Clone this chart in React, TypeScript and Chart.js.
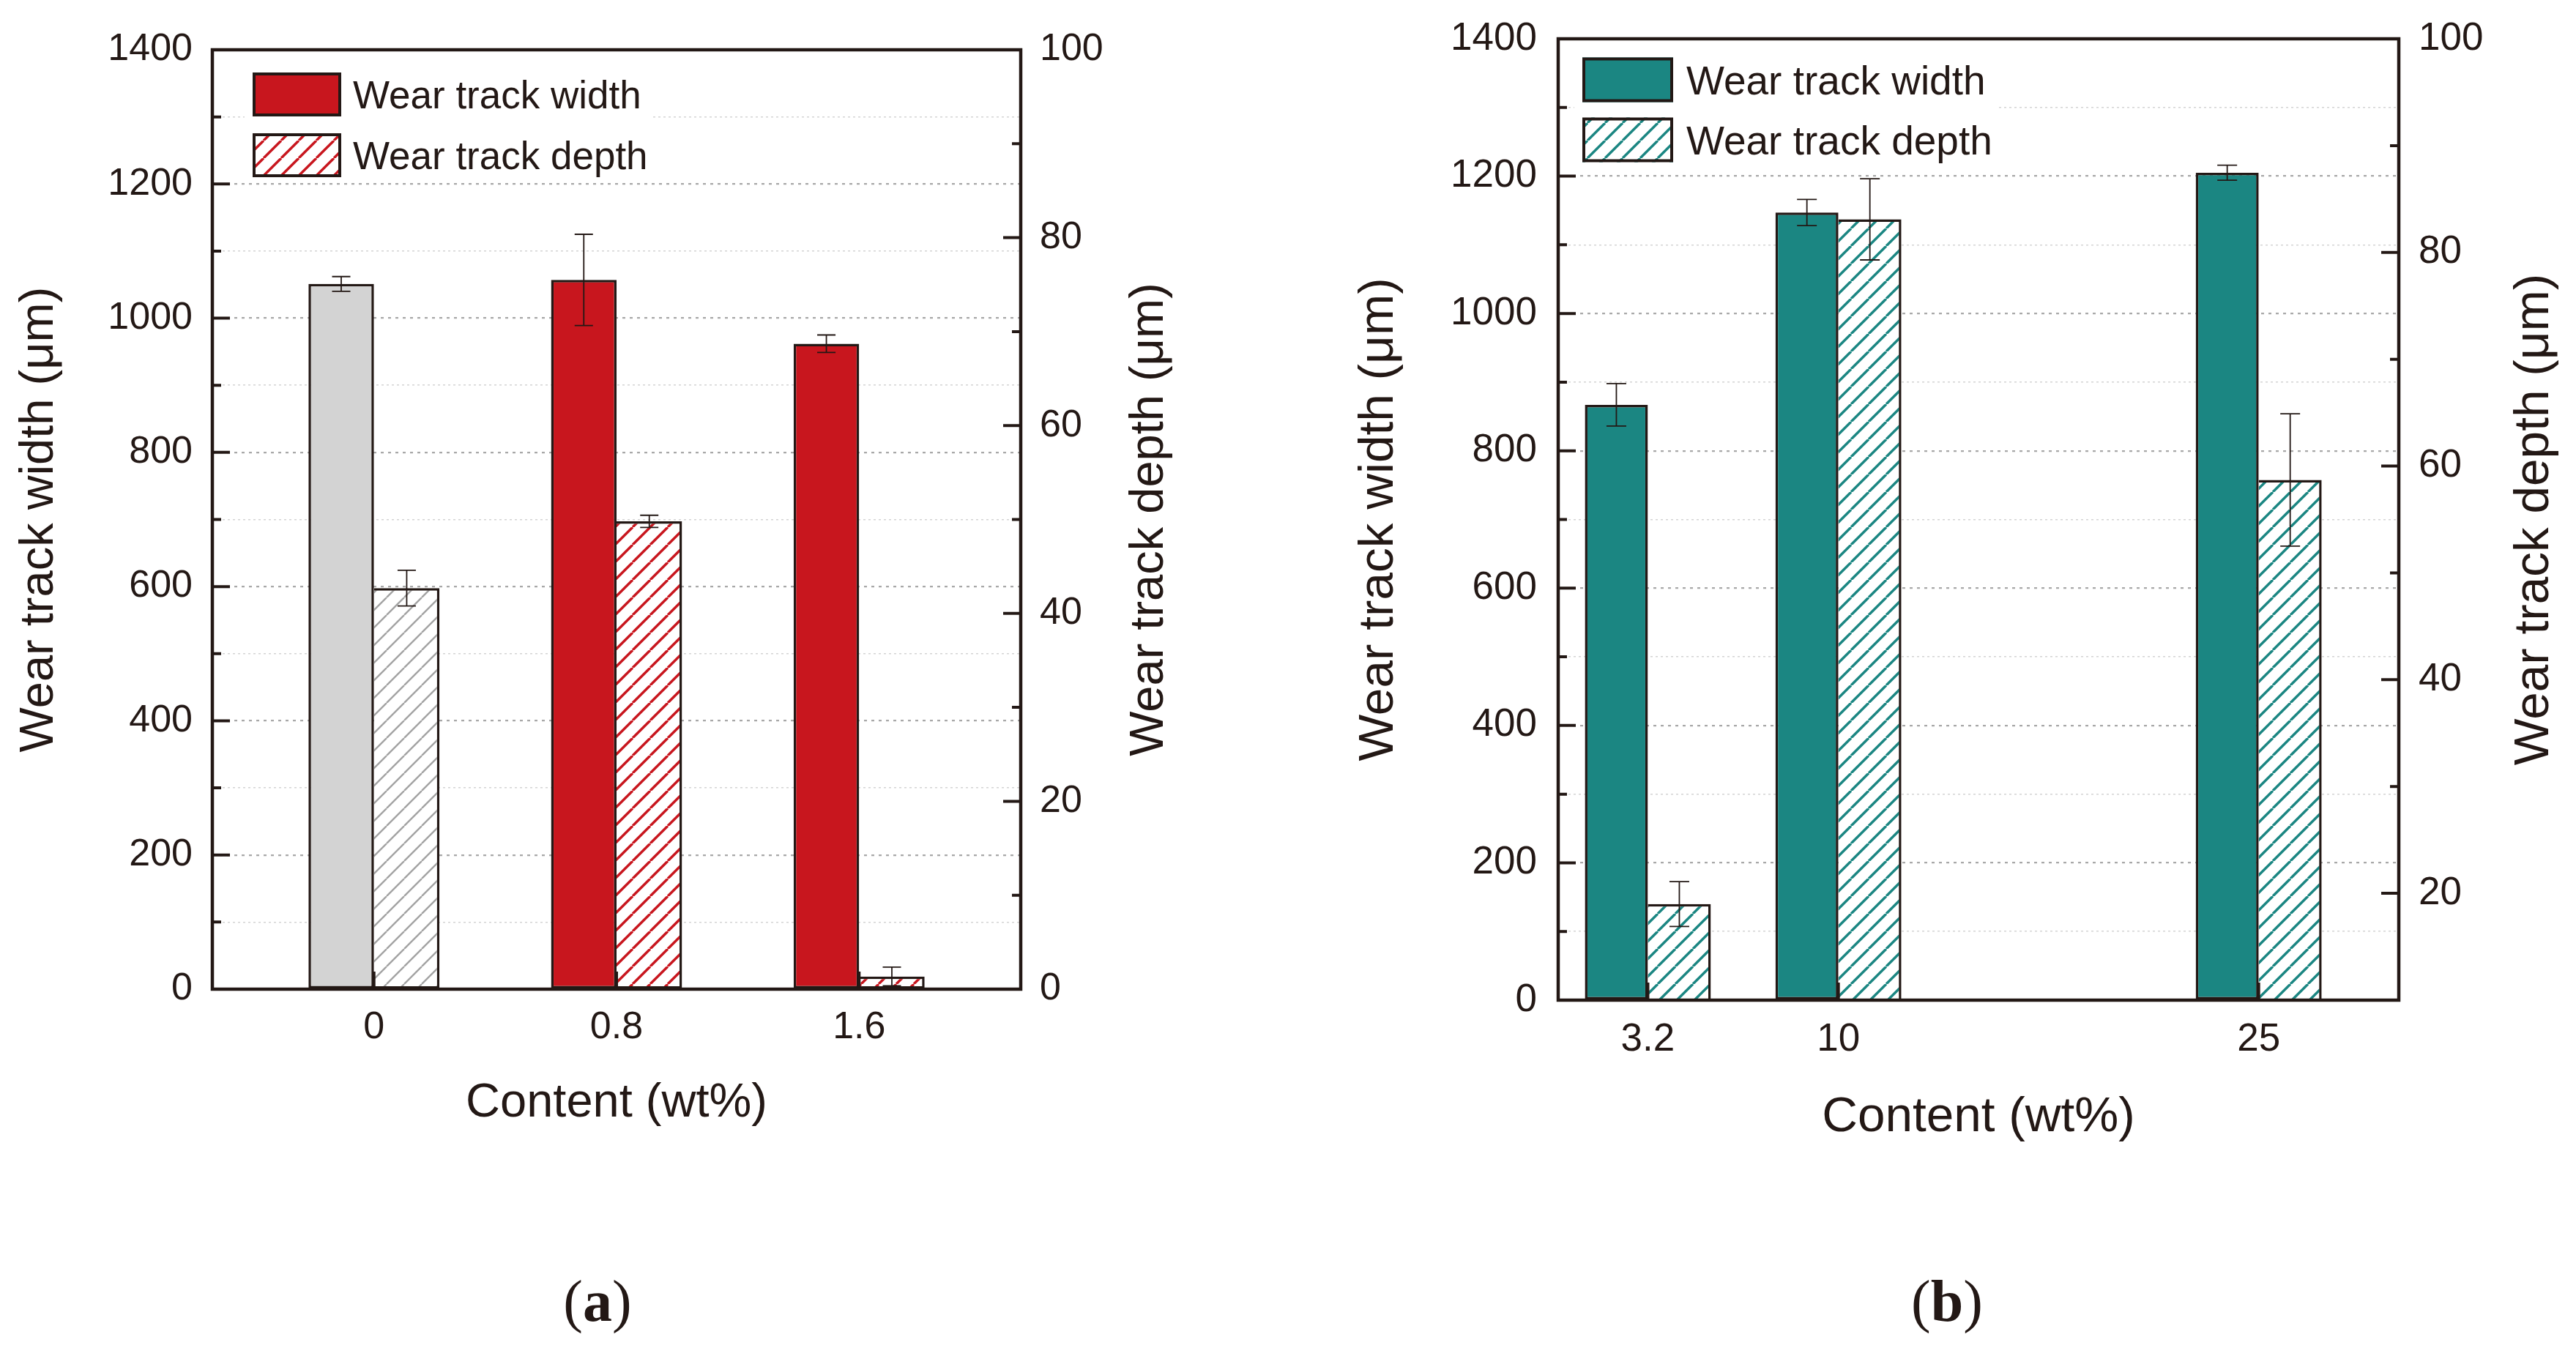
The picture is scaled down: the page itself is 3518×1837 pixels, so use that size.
import { useEffect, useRef } from "react"
import { Chart, registerables } from "chart.js"

Chart.register(...registerables)

// ---- panel (a) data
const contentA = [0, 0.8, 1.6]
const contentLabelsA = ["0", "0.8", "1.6"]
const widthA = [1051, 1057, 962]
const widthErrA = [11, 68, 13]
const depthA = [42.7, 49.8, 1.35]
const depthErrA = [1.9, 0.65, 1.0]

// ---- panel (b) data
const contentB = [3.2, 10, 25]
const contentLabelsB = ["3.2", "10", "25"]
const widthB = [867, 1147, 1205]
const widthErrB = [31, 19, 11]
const depthB = [19.0, 83.1, 58.7]
const depthErrB = [2.1, 3.8, 6.2]

const legendLabels = ["Wear track width", "Wear track depth"]
const xTitle = "Content (wt%)"
const leftTitle = "Wear track width (μm)"
const rightTitle = "Wear track depth (μm)"

const INK = "#231815"
const RED = "#c8161e"
const TEAL = "#1b8682"
const GRAY = "#d3d3d3"
const GRAY_HATCH = "#a3a3a3"
const FONT = "'Liberation Sans', Arial, sans-serif"
const H = 1837

Chart.defaults.font.family = FONT
Chart.defaults.color = INK

function makeHatch(color: string): CanvasPattern {
  const size = 24
  const tile = document.createElement("canvas")
  tile.width = size
  tile.height = size
  const g = tile.getContext("2d") as CanvasRenderingContext2D
  g.fillStyle = "#ffffff"
  g.fillRect(0, 0, size, size)
  g.strokeStyle = color
  g.lineWidth = color === GRAY_HATCH ? 2.4 : 3.4
  g.beginPath()
  for (const k of [-1, 0, 1]) {
    g.moveTo(k * size, size)
    g.lineTo((k + 1) * size, 0)
  }
  g.stroke()
  return g.createPattern(tile, "repeat") as CanvasPattern
}

const panelA = {
  xs: contentA, xLabels: contentLabelsA,
  width: widthA, widthErr: widthErrA, depth: depthA, depthErr: depthErrA,
  fills: [GRAY, RED, RED], hatches: [GRAY_HATCH, RED, RED], legendColor: RED,
  xMin: -0.533, xMax: 2.133, depthMin: 0,
  left: 0, canvasW: 1760, area: { l: 290, t: 68, r: 1394, b: 1351 },
  tickFont: 52, titleFont: 65, legendFont: 53,
  padL: 27, padR: 26, padX: 21,
  titleL: 218, titleR: 194, titleB: 174,
  leg: { dx: 55, dy1: 31, dy2: 114, w: 121, h: 60, gap: 16 },
  cat: 0.54, capHalf: 12.5,
}

const panelB = {
  xs: contentB, xLabels: contentLabelsB,
  width: widthB, widthErr: widthErrB, depth: depthB, depthErr: depthErrB,
  fills: [TEAL, TEAL, TEAL], hatches: [TEAL, TEAL, TEAL], legendColor: TEAL,
  xMin: 0, xMax: 30, depthMin: 10,
  left: 1760, canvasW: 1758, area: { l: 368, t: 53, r: 1516, b: 1366 },
  tickFont: 53, titleFont: 67.5, legendFont: 55,
  padL: 29, padR: 27, padX: 23,
  titleL: 226, titleR: 204, titleB: 179,
  leg: { dx: 33, dy1: 25.5, dy2: 107.5, w: 124, h: 61, gap: 18 },
  cat: 0.661, capHalf: 13.5,
}

type PanelSpec = typeof panelA

function decorations(p: PanelSpec) {
  return {
    id: "decorations",
    afterDatasetsDraw(chart: any) {
      const { ctx, chartArea: a } = chart
      const errs = [p.widthErr, p.depthErr]
      ctx.save()
      ctx.strokeStyle = INK

      // error bars
      ctx.lineWidth = 1.8
      chart.data.datasets.forEach((ds: any, i: number) => {
        const meta = chart.getDatasetMeta(i)
        const ys = chart.scales[meta.yAxisID]
        meta.data.forEach((el: any, j: number) => {
          const v = ds.data[j].y
          const e = errs[i][j]
          const top = ys.getPixelForValue(v + e)
          const bot = ys.getPixelForValue(v - e)
          ctx.beginPath()
          ctx.moveTo(el.x, top)
          ctx.lineTo(el.x, bot)
          ctx.moveTo(el.x - p.capHalf, top)
          ctx.lineTo(el.x + p.capHalf, top)
          ctx.moveTo(el.x - p.capHalf, bot)
          ctx.lineTo(el.x + p.capHalf, bot)
          ctx.stroke()
        })
      })

      // inward tick marks
      ctx.lineWidth = 4
      ctx.beginPath()
      const yL = chart.scales.y
      const yR = chart.scales.y1
      const xS = chart.scales.x
      yL.ticks.forEach((t: any) => {
        if (t.value <= yL.min || t.value >= yL.max) return
        const y = yL.getPixelForValue(t.value)
        ctx.moveTo(a.left, y)
        ctx.lineTo(a.left + (t.label ? 24 : 12), y)
      })
      yR.ticks.forEach((t: any) => {
        if (t.value <= yR.min || t.value >= yR.max) return
        const y = yR.getPixelForValue(t.value)
        ctx.moveTo(a.right, y)
        ctx.lineTo(a.right - (t.label ? 24 : 12), y)
      })
      xS.ticks.forEach((t: any) => {
        const x = xS.getPixelForValue(t.value)
        ctx.moveTo(x, a.bottom)
        ctx.lineTo(x, a.bottom - 24)
      })
      ctx.stroke()

      // frame
      ctx.lineWidth = 4.5
      ctx.strokeRect(a.left, a.top, a.right - a.left, a.bottom - a.top)
      ctx.restore()
    },
    afterDraw(chart: any) {
      const { ctx, chartArea: a } = chart
      ctx.save()

      // legend
      const lg = p.leg
      const bx = a.left + lg.dx
      const rows = [a.top + lg.dy1, a.top + lg.dy2]
      ctx.font = `${p.legendFont}px ${FONT}`
      const textX = bx + lg.w + lg.gap
      const textEnd = textX + Math.max(...legendLabels.map((s) => ctx.measureText(s).width))
      ctx.fillStyle = "#ffffff"
      ctx.fillRect(bx - 11, rows[0] - 8, textEnd + 6 - (bx - 11), rows[1] + lg.h + 14 - rows[0])
      const swatches = [p.legendColor, makeHatch(p.legendColor)]
      rows.forEach((ry, i) => {
        ctx.fillStyle = swatches[i]
        ctx.fillRect(bx, ry, lg.w, lg.h)
        ctx.lineWidth = 4
        ctx.strokeStyle = INK
        ctx.strokeRect(bx + 2, ry + 2, lg.w - 4, lg.h - 4)
        ctx.fillStyle = INK
        ctx.textAlign = "left"
        ctx.textBaseline = "alphabetic"
        ctx.fillText(legendLabels[i], textX, ry + lg.h / 2 + 0.358 * p.legendFont)
      })

      // axis titles
      ctx.font = `${p.titleFont}px ${FONT}`
      ctx.fillStyle = INK
      ctx.textAlign = "center"
      ctx.textBaseline = "alphabetic"
      ctx.fillText(xTitle, (a.left + a.right) / 2, a.bottom + p.titleB)
      const cy = (a.top + a.bottom) / 2
      const side: [number, string][] = [
        [a.left - p.titleL, leftTitle],
        [a.right + p.titleR, rightTitle],
      ]
      side.forEach(([bx2, txt]) => {
        ctx.save()
        ctx.translate(bx2, cy)
        ctx.rotate(-Math.PI / 2)
        ctx.fillText(txt, 0, 0)
        ctx.restore()
      })
      ctx.restore()
    },
  }
}

function buildConfig(p: PanelSpec): any {
  const tickFont = { size: p.tickFont, family: FONT }
  return {
    type: "bar",
    data: {
      datasets: [
        {
          label: legendLabels[0],
          data: p.xs.map((x, i) => ({ x, y: p.width[i] })),
          yAxisID: "y",
          backgroundColor: p.fills,
          borderColor: INK,
          borderWidth: 3.5,
          borderSkipped: false,
        },
        {
          label: legendLabels[1],
          data: p.xs.map((x, i) => ({ x, y: p.depth[i] })),
          yAxisID: "y1",
          backgroundColor: p.hatches.map((c) => makeHatch(c)),
          borderColor: INK,
          borderWidth: { top: 3.5, right: 3.5, bottom: 3.5, left: 0 },
          borderSkipped: false,
        },
      ],
    },
    options: {
      animation: false,
      responsive: false,
      devicePixelRatio: 1,
      layout: { padding: { top: p.area.t, left: 0, right: 0, bottom: 0 } },
      plugins: { legend: { display: false }, tooltip: { enabled: false } },
      datasets: { bar: { categoryPercentage: p.cat, barPercentage: 1 } },
      scales: {
        x: {
          type: "linear",
          position: "bottom",
          min: p.xMin,
          max: p.xMax,
          offset: false,
          grid: { display: false, drawTicks: false },
          border: { display: false },
          afterBuildTicks: (s: any) => {
            s.ticks = p.xs.map((v) => ({ value: v }))
          },
          afterFit: (s: any) => {
            s.height = H - p.area.b
            s.paddingLeft = 0
            s.paddingRight = 0
          },
          ticks: {
            autoSkip: false,
            maxRotation: 0,
            padding: p.padX,
            font: tickFont,
            color: INK,
            callback: (v: any) => p.xLabels[p.xs.indexOf(Number(v))] ?? "",
          },
        },
        y: {
          type: "linear",
          position: "left",
          min: 0,
          max: 1400,
          afterFit: (s: any) => {
            s.width = p.area.l
            s.paddingTop = 0
            s.paddingBottom = 0
          },
          ticks: {
            stepSize: 100,
            autoSkip: false,
            padding: p.padL,
            font: tickFont,
            color: INK,
            callback: (v: any) => (Number(v) % 200 === 0 ? String(v) : ""),
          },
          grid: {
            drawTicks: false,
            color: (c: any) => (c.tick && c.tick.value % 200 === 0 ? "#a8a8a8" : "#d4d4d4"),
            lineWidth: (c: any) => (c.tick && c.tick.value % 200 === 0 ? 2.2 : 1.6),
          },
          border: {
            display: false,
            dash: (c: any) => (c.tick && c.tick.value % 200 === 0 ? [4, 6] : [3, 4]),
          },
        },
        y1: {
          type: "linear",
          position: "right",
          min: p.depthMin,
          max: 100,
          afterFit: (s: any) => {
            s.width = p.canvasW - p.area.r
            s.paddingTop = 0
            s.paddingBottom = 0
          },
          ticks: {
            stepSize: 10,
            autoSkip: false,
            padding: p.padR,
            font: tickFont,
            color: INK,
            callback: (v: any) => (Number(v) % 20 === 0 ? String(v) : ""),
          },
          grid: { drawOnChartArea: false, drawTicks: false },
          border: { display: false },
        },
      },
    },
    plugins: [decorations(p)],
  }
}

function Panel({ spec }: { spec: PanelSpec }) {
  const canvasRef = useRef<HTMLCanvasElement>(null)
  const chartInstance = useRef<Chart | null>(null)

  useEffect(() => {
    if (!canvasRef.current) return
    if (chartInstance.current) chartInstance.current.destroy()
    chartInstance.current = new Chart(canvasRef.current, buildConfig(spec))
    return () => {
      if (chartInstance.current) {
        chartInstance.current.destroy()
        chartInstance.current = null
      }
    }
  }, [spec])

  return (
    <canvas
      ref={canvasRef}
      width={spec.canvasW}
      height={H}
      style={{ position: "absolute", left: spec.left, top: 0, width: spec.canvasW, height: H }}
    />
  )
}

function caption(cx: number): React.CSSProperties {
  return {
    position: "absolute",
    left: cx - 150,
    width: 300,
    top: 1737,
    textAlign: "center",
    fontFamily: "'Liberation Serif', 'Times New Roman', serif",
    fontSize: 80,
    lineHeight: "80px",
    color: INK,
  }
}

export default function App() {
  return (
    <div
      style={{
        position: "fixed",
        left: 0,
        top: 0,
        width: 3518,
        height: H,
        background: "#ffffff",
        overflow: "hidden",
      }}
    >
      <Panel spec={panelA} />
      <Panel spec={panelB} />
      <div style={caption(816)}>
        (<b>a</b>)
      </div>
      <div style={caption(2659)}>
        (<b>b</b>)
      </div>
    </div>
  )
}
